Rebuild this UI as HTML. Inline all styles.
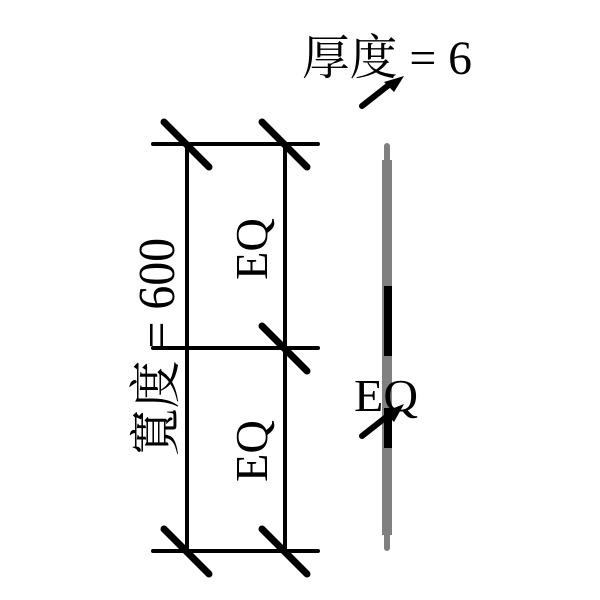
<!DOCTYPE html>
<html><head><meta charset="utf-8"><style>
html,body{margin:0;padding:0;background:#fff;}
</style></head><body>
<svg width="600" height="600" viewBox="0 0 600 600" xmlns="http://www.w3.org/2000/svg" style="display:block">
<g stroke="#000" stroke-width="4" stroke-linecap="round" fill="none">
<line x1="153" y1="144" x2="318" y2="144"/>
<line x1="153" y1="348" x2="318" y2="348"/>
<line x1="153" y1="551" x2="318" y2="551"/>
<line x1="187" y1="144" x2="187" y2="551"/>
<line x1="285" y1="144" x2="285" y2="551"/>
</g>
<g stroke="#000" stroke-width="7" stroke-linecap="round">
<line x1="164" y1="122" x2="209" y2="167"/>
<line x1="262" y1="122" x2="307" y2="167"/>
<line x1="262" y1="326" x2="307" y2="371"/>
<line x1="164" y1="529" x2="209" y2="574"/>
<line x1="262" y1="529" x2="307" y2="574"/>
</g>
<g stroke="#808080" stroke-linecap="round">
<line x1="387" y1="146" x2="387" y2="548" stroke-width="6"/>
<line x1="387" y1="160" x2="387" y2="535" stroke-width="10" stroke-linecap="butt"/>
</g>
<rect x="384" y="286" width="8" height="70" fill="#000"/>
<rect x="384" y="408" width="8" height="40" fill="#000"/>
<g fill="#000" stroke="#000" stroke-width="6" stroke-linecap="round">
<line x1="362" y1="106" x2="390" y2="84"/>
<line x1="362" y1="436" x2="390" y2="414"/>
</g>
<polygon points="384,82 404,76 394,92" fill="#000"/>
<polygon points="384,412 404,404 394,422" fill="#000"/>
<g font-family="Liberation Serif, Noto Serif CJK SC, serif" fill="#000">
<text x="302" y="74" font-size="48" textLength="170" lengthAdjust="spacingAndGlyphs">厚度 = 6</text>
<text x="354" y="411" font-size="46" textLength="64" lengthAdjust="spacingAndGlyphs">EQ</text>
<text transform="translate(174,456) rotate(-90)" font-size="52" textLength="218" lengthAdjust="spacingAndGlyphs">寬度 = 600</text>
<text transform="translate(267,280) rotate(-90)" font-size="46" textLength="62" lengthAdjust="spacingAndGlyphs">EQ</text>
<text transform="translate(267,482) rotate(-90)" font-size="46" textLength="62" lengthAdjust="spacingAndGlyphs">EQ</text>
</g>
</svg>
</body></html>
